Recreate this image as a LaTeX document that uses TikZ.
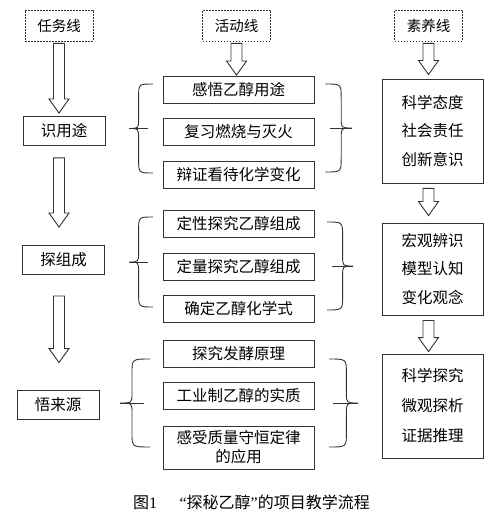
\documentclass[tikz,border=0pt]{standalone}
\usepackage{fontspec}
\setmainfont{Noto Sans CJK SC}
\newfontfamily\latinfont{Liberation Serif}
\usetikzlibrary{calc}

\tikzset{
	header/.style={draw=black!80,dash pattern=on 1.6pt off 1.4pt,line width=0.8pt,minimum width=68pt,minimum height=31pt,inner sep=0pt,font=\fontsize{14.5}{17}\selectfont},
	taskbox/.style={draw=black!80,line width=0.9pt,minimum width=82pt,minimum height=29pt,inner sep=0pt,font=\fontsize{15.5}{18}\selectfont},
	actbox/.style={draw=black!80,line width=0.9pt,minimum width=151pt,minimum height=27pt,inner sep=0pt,align=center,font=\fontsize{15.5}{19}\selectfont},
	litbox/.style={draw=black!80,line width=0.9pt,minimum width=101pt,inner sep=0pt,align=center},
	hollow/.style={draw=black!80,line width=0.9pt,fill=white,line join=miter},
	curl/.style={draw=black!80,line width=0.9pt},
}

\newcommand{\blockarrow}[5]{%
	\draw[hollow] let \p1=(#1), \p2=(#2.south), \p3=(#3.north) in
		(\x1-5.5pt,\y2-#4pt) -- (\x1+5.5pt,\y2-#4pt) -- (\x1+5.5pt,\y3+#5pt+14pt) -- (\x1+10pt,\y3+#5pt+14pt)
		-- (\x1,\y3+#5pt) -- (\x1-10pt,\y3+#5pt+14pt) -- (\x1-5.5pt,\y3+#5pt+14pt) -- cycle;}

\newcommand{\curl}[5]{%
	\draw[curl] ({#2},{#3}) .. controls ({#1+0.4*(#2-#1)},{#3}) .. ({#1+0.4*(#2-#1)},{#3+14})
		-- ({#1+0.4*(#2-#1)},{(#3+#4)/2-10}) .. controls ({#1+0.4*(#2-#1)},{(#3+#4)/2}) .. ({#1},{(#3+#4)/2})
		.. controls ({#1+0.4*(#2-#1)},{(#3+#4)/2}) .. ({#1+0.4*(#2-#1)},{(#3+#4)/2+10})
		-- ({#1+0.4*(#2-#1)},{#4-14}) .. controls ({#1+0.4*(#2-#1)},{#4}) .. ({#2},{#4});
	\draw[curl] ({#1},{(#3+#4)/2}) -- ({#5},{(#3+#4)/2});}

\begin{document}
\begin{tikzpicture}[x=1pt,y=-1pt]
	\useasboundingbox (0,0) rectangle (500,518);

	\node[header] (t1) at ( 59  , 25.5) {任务线};
	\node[header] (t2) at (236.5, 25.5) {活动线};
	\node[header] (t3) at (428.5, 25.5) {素养线};

	\node[taskbox] (s1) at ( 64  ,131  ) {识用途};
	\node[taskbox] (s2) at ( 63.5,260  ) {探组成};
	\node[taskbox] (s3) at ( 58  ,404.5) {悟来源};

	\node[actbox] (a1) at (238.5, 90  ) {感悟乙醇用途};
	\node[actbox] (a2) at (238.5,132  ) {复习燃烧与灭火};
	\node[actbox] (a3) at (238.5,175  ) {辩证看待化学变化};
	\node[actbox] (b1) at (238.5,223.5) {定性探究乙醇组成};
	\node[actbox] (b2) at (238.5,266.5) {定量探究乙醇组成};
	\node[actbox] (b3) at (238.5,309  ) {确定乙醇化学式};
	\node[actbox] (c1) at (238.5,353.5) {探究发酵原理};
	\node[actbox] (c2) at (238.5,396  ) {工业制乙醇的实质};
	\node[actbox,minimum height=43pt] (c3) at (238.5,447.5) {感受质量守恒定律\\的应用};

	\node[litbox,minimum height=104pt,font=\fontsize{15.5}{28.5}\selectfont] (r1) at (432.5,131) {科学态度\\社会责任\\创新意识};
	\node[litbox,minimum height=92pt,font=\fontsize{15.5}{28.5}\selectfont] (r2) at (432.5,269) {宏观辨识\\模型认知\\变化观念};
	\node[litbox,minimum height=104pt,font=\fontsize{15.5}{30}\selectfont] (r3) at (432.5,406) {科学探究\\微观探析\\证据推理};

	\blockarrow{t1}{t1}{s1}{2}{3}
	\blockarrow{t1}{s1}{s2}{12}{18}
	\blockarrow{t1}{s2}{s3}{21}{27}
	\blockarrow{t2}{t2}{a1}{2}{1}
	\blockarrow{t3}{t3}{r1}{2}{4}
	\blockarrow{t3}{r1}{r2}{5}{7}
	\blockarrow{t3}{r2}{r3}{5}{2}

	\curl{129}{153}{84}{173}{148}
	\curl{352}{325}{84}{172}{330}
	\curl{129}{153}{217}{307}{148}
	\curl{353}{327}{222}{310}{332}
	\curl{120}{150}{359}{447}{144}
	\curl{358}{329}{359}{447}{333}

	\node[font=\fontsize{16}{18}\selectfont] (cap) at (251.5,502) {图{\latinfont 1}\hspace{1.4em}{\latinfont “}探秘乙醇{\latinfont ”}的项目教学流程};
\end{tikzpicture}
\end{document}
